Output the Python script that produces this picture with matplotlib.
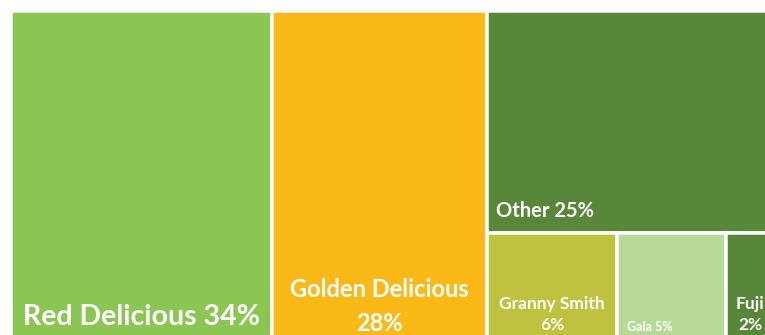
import matplotlib.pyplot as plt
from matplotlib.patches import Rectangle

# apple varieties share (%)
varieties = ["Red Delicious", "Golden Delicious", "Other", "Granny Smith", "Gala", "Fuji"]
shares = [34, 28, 24.6, 6, 5, 2.4]
colors = ["#8BC653", "#FBB917", "#58873A", "#BFC23E", "#B8DA98", "#58873A"]

# label text per tile
labels = ["Red Delicious 34%", "Golden Delicious\n28%", "Other 25%",
          "Granny Smith\n6%", "Gala 5%", "Fuji\n2%"]

plt.rcParams['font.family'] = ['Lato', 'DejaVu Sans']

W, H = 765, 335
fig = plt.figure(figsize=(W / 100, H / 100), dpi=100)
# the treemap runs past the right and bottom edge of the picture
ax_left, ax_top, ax_w, ax_h = 10.5, 10.5, 768, 343
ax = fig.add_axes([ax_left / W, (H - ax_top - ax_h) / H, ax_w / W, ax_h / H])
ax.set_xlim(0, sum(shares))
ax.set_ylim(0, 1)
ax.axis('off')

# slice-and-dice layout: two big columns, then a group column
rects = []
x = 0
for v in shares[:2]:
    rects.append((x, 0, v, 1))
    x += v
group = sum(shares[2:])
small = sum(shares[3:])
top_h = shares[2] / group
rects.append((x, 1 - top_h, group, top_h))
sx = x
for v in shares[3:]:
    w = group * v / small
    rects.append((sx, 0, w, 1 - top_h))
    sx += w

gap = 3.5 * 72 / 100
for (rx, ry, rw, rh), c in zip(rects, colors):
    ax.add_patch(Rectangle((rx, ry), rw, rh, facecolor=c, edgecolor='white', linewidth=gap))

# label styling: (horizontal place, font size, offset points from bottom, line spacing)
styles = [
    ("center", 20.5, 17, 1.2),
    ("center", 17, 13.5, 1.55),
    ("left", 14.5, 8, 1.2),
    ("center", 12.5, 14.5, 1.4),
    ("left", 9, 14.5, 1.2),
    ("left", 12.5, 14.5, 1.4),
]
for (rx, ry, rw, rh), lab, (place, fs, dy, ls) in zip(rects, labels, styles):
    if place == "center":
        xy, dx, ha = (rx + rw / 2, ry), 0, "center"
    else:
        xy, dx, ha = (rx, ry), 7, "left"
    ax.annotate(lab, xy=xy, xytext=(dx, dy), textcoords='offset points',
                ha=ha, va='bottom', multialignment='center',
                fontsize=fs, fontweight='bold', color='white', linespacing=ls)

fig.savefig("out.png", dpi=100)
